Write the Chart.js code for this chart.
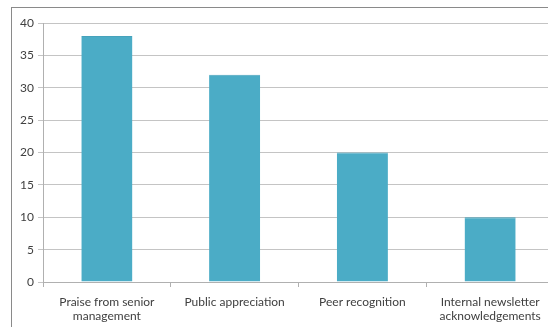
<!DOCTYPE html>
<html>
<head>
<meta charset="utf-8">
<script src="https://cdn.jsdelivr.net/npm/chart.js@4"></script>
<style>
  html, body { margin: 0; padding: 0; background: #fff; overflow: hidden; }
  #wrap { position: absolute; left: 0; top: 0; width: 548px; height: 327px; overflow: hidden; }
  #frame { position: absolute; left: 11px; top: 7px; width: 600px; height: 400px;
           border-left: 1px solid #8a8a8a; border-top: 1px solid #8a8a8a; }
  #chart { position: absolute; left: 0; top: 0; }
</style>
</head>
<body>
<div id="wrap">
  <div id="frame"></div>
  <canvas id="chart" width="560" height="327"></canvas>
</div>
<script>
// Chart data
const categories = [
    ['Praise from senior', 'management'],
    'Public appreciation',
    'Peer recognition',
    ['Internal newsletter', 'acknowledgements']
];
const counts = [38, 32, 20, 10];
const yTicks = [0, 5, 10, 15, 20, 25, 30, 35, 40];

const xFont = { family: "Lato, 'Liberation Sans', sans-serif", size: 12, lineHeight: 1.2 };
const yFont = { family: "Lato, 'Liberation Sans', sans-serif", size: 12 };

new Chart(document.getElementById('chart'), {
    type: 'bar',
    data: {
        labels: categories,
        datasets: [{
            data: counts,
            backgroundColor: '#4bacc6',
            borderColor: '#46a2bb',
            borderWidth: { top: 1, left: 0, right: 0, bottom: 0 },
            barPercentage: 0.8,
            categoryPercentage: 0.5
        }]
    },
    options: {
        responsive: false,
        animation: false,
        maintainAspectRatio: false,
        layout: { padding: { left: 0, top: 23, right: 6, bottom: 0 } },
        plugins: { legend: { display: false }, tooltip: { enabled: false } },
        scales: {
            x: {
                grid: { drawOnChartArea: false, tickLength: 5, color: '#b0b0b0', offset: true },
                border: { color: '#b0b0b0' },
                ticks: { font: xFont, color: '#404040', padding: 8, maxRotation: 0, autoSkip: false },
                afterFit: s => { s.height = 45; }
            },
            y: {
                min: 0,
                max: 40,
                afterBuildTicks: s => { s.ticks = yTicks.map(v => ({ value: v })); },
                grid: { color: '#c4c4c4', tickLength: 5 },
                border: { color: '#b0b0b0' },
                ticks: { font: yFont, color: '#404040', padding: 4 },
                afterFit: s => { s.width = 43; }
            }
        }
    }
});
</script>
</body>
</html>
